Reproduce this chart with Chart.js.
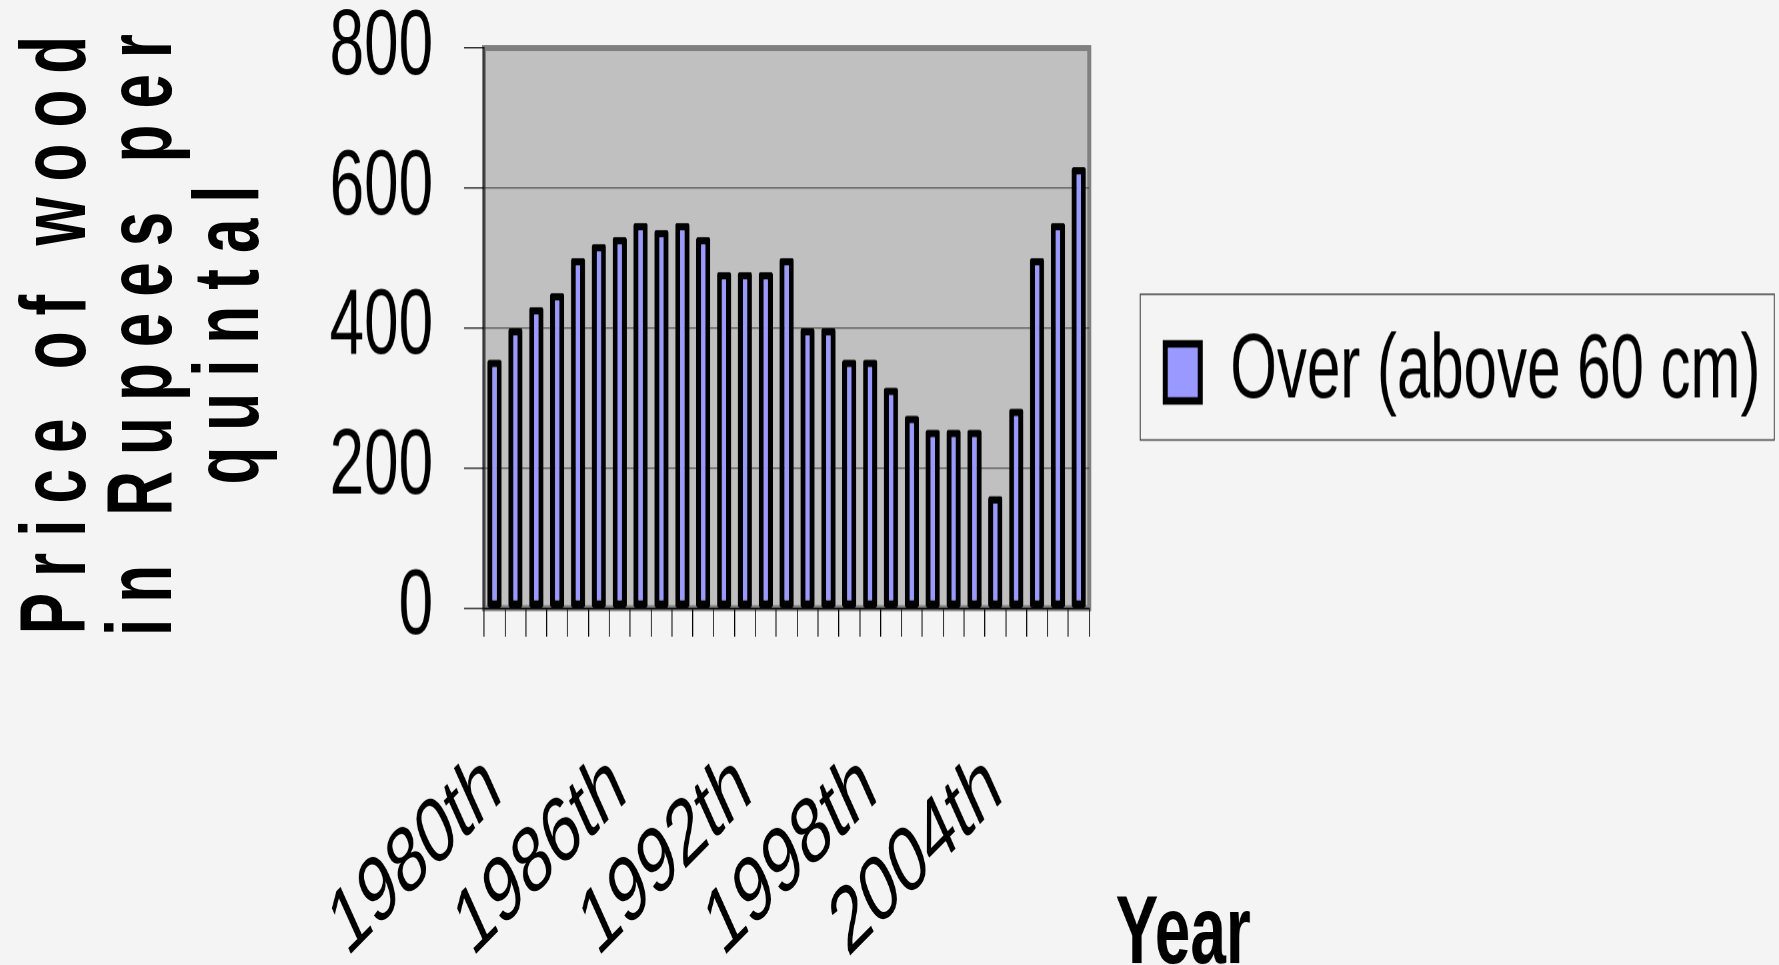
<!DOCTYPE html>
<html>
<head>
<meta charset="utf-8">
<title>Price of wood</title>
<script src="https://cdn.jsdelivr.net/npm/chart.js@4.4.1/dist/chart.umd.min.js"></script>
<style>
    html, body { margin: 0; padding: 0; background: #f4f4f4; }
    body { width: 1779px; height: 965px; position: relative; overflow: hidden; }
    /* the whole chart is drawn squeezed and stretched back, like the tall narrow text of the original */
    #wrap { position: absolute; left: 0; top: 0; width: 1779px; height: 643px; transform: scaleY(1.5008); transform-origin: 0 0; }
    #ytitle {
        position: absolute; left: -211px; top: 249px; width: 700px; height: 172px;
        padding-left: 16px; box-sizing: border-box;
        transform: rotate(-90deg) scaleY(1.5);
        font-family: 'Liberation Sans', Arial, sans-serif; font-weight: bold;
        font-size: 62px; letter-spacing: 16px; line-height: 57.3px;
        text-align: center; color: #000; white-space: nowrap;
    }
</style>
</head>
<body>
<div id="wrap"><canvas id="chartWood" width="1779" height="643"></canvas></div>
<div id="ytitle">Price of wood<br>in Rupees per<br>quintal</div>

<script>
// ── Datos ─────────────────────────────────────────────
const years = [
    '1980th', '1981th', '1982th', '1983th', '1984th', '1985th',
    '1986th', '1987th', '1988th', '1989th', '1990th', '1991th',
    '1992th', '1993th', '1994th', '1995th', '1996th', '1997th',
    '1998th', '1999th', '2000th', '2001th', '2002th', '2003th',
    '2004th', '2005th', '2006th', '2007th', '2008th'
];
const shownYears = ['1980th', '1986th', '1992th', '1998th', '2004th'];

// Over (above 60 cm), Rupees per quintal
const priceOver = [
    355, 400, 430, 450, 500, 520,
    530, 550, 540, 550, 530, 480,
    480, 480, 500, 400, 400, 355,
    355, 315, 275, 255, 255, 255,
    160, 285, 500, 550, 630
];
const yTicks = [0, 200, 400, 600, 800];

// ── Estilos ───────────────────────────────────────────
const FONT = '"Liberation Sans", Arial, sans-serif';
const COLOR_BAR   = '#9999ff';
const COLOR_PLOT  = '#c0c0c0';
const COLOR_FRAME = '#808080';
const LEGEND_FRAME = { left: 1140, top: 196, right: 1774, bottom: 293 };

Chart.defaults.font.family = FONT;
Chart.defaults.color = '#000';

// gray plot area, legend frame and the "Year" caption
const plotFrame = {
    id: 'plotFrame',
    afterLayout(chart) {
        const lg = chart.legend;
        lg.left = LEGEND_FRAME.left;
        lg.right = LEGEND_FRAME.right;
        lg.top = LEGEND_FRAME.top - 3;
        lg.bottom = LEGEND_FRAME.bottom;
        lg.width = lg.right - lg.left;
        lg.height = lg.bottom - lg.top;
    },
    beforeDraw(chart) {
        const { ctx, chartArea: a } = chart;
        ctx.save();
        ctx.fillStyle = COLOR_PLOT;
        ctx.fillRect(a.left, a.top, a.right - a.left, a.bottom - a.top);
        ctx.strokeStyle = COLOR_FRAME;
        ctx.lineWidth = 4;
        ctx.strokeRect(a.left, a.top, a.right - a.left, a.bottom - a.top);
        ctx.restore();
    },
    afterDraw(chart) {
        const ctx = chart.ctx;
        const f = LEGEND_FRAME;
        ctx.save();
        ctx.strokeStyle = '#404040';
        ctx.lineWidth = 1;
        ctx.strokeRect(f.left, f.top, f.right - f.left, f.bottom - f.top);
        ctx.fillStyle = '#000';
        ctx.font = 'bold 64px ' + FONT;
        ctx.textAlign = 'center';
        ctx.textBaseline = 'alphabetic';
        ctx.fillText('Year', 1183, 641);
        ctx.restore();
    }
};

new Chart(document.getElementById('chartWood'), {
    type: 'bar',
    data: {
        labels: years,
        datasets: [{
            label: 'Over (above 60 cm)',
            data: priceOver,
            backgroundColor: COLOR_BAR,
            borderColor: '#000',
            borderWidth: 5,
            borderSkipped: false,
            borderRadius: 2,
            barPercentage: 0.68,
            categoryPercentage: 1
        }]
    },
    options: {
        responsive: false,
        devicePixelRatio: 1.5,
        animation: false,
        layout: { padding: { top: 32, left: 0, right: 690, bottom: 0 } },
        plugins: {
            tooltip: { enabled: false },
            legend: {
                position: 'chartArea',
                fullSize: false,
                align: 'start',
                labels: {
                    font: { size: 60 },
                    color: '#000',
                    boxWidth: 35,
                    boxHeight: 38,
                    padding: 25
                }
            }
        },
        scales: {
            x: {
                offset: true,
                grid: { drawOnChartArea: false, offset: true, tickLength: 19, tickColor: '#000', lineWidth: 1 },
                border: { color: '#000', width: 1 },
                ticks: {
                    autoSkip: false,
                    minRotation: 34,
                    maxRotation: 34,
                    padding: 68,
                    font: { size: 62, lineHeight: 1 },
                    callback: function(v) {
                        const l = this.getLabelForValue(v);
                        return shownYears.includes(l) ? l : '';
                    }
                },
                afterFit: s => { s.height = 238; }
            },
            y: {
                min: 0,
                max: 800,
                afterBuildTicks: s => { s.ticks = yTicks.map(v => ({ value: v })); },
                ticks: { padding: 31, font: { size: 62, lineHeight: 1 } },
                grid: {
                    color: c => (c.tick && c.tick.value === 800) ? 'rgba(0,0,0,0)' : '#333',
                    lineWidth: 0.8,
                    tickLength: 20,
                    tickColor: '#000'
                },
                border: { color: '#000', width: 1 },
                afterFit: s => { s.width = 484; s.paddingTop = 31; s.paddingBottom = 31; }
            }
        }
    },
    plugins: [plotFrame]
});
</script>
</body>
</html>
